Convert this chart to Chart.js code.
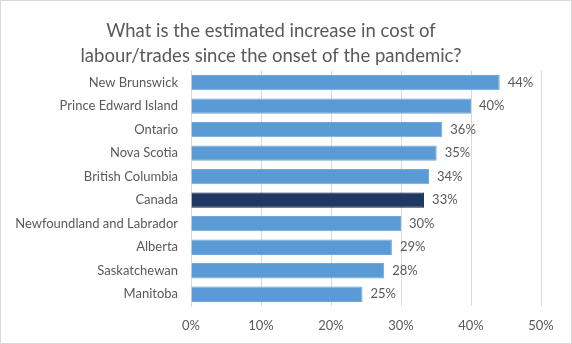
<!DOCTYPE html>
<html>
<head>
<meta charset="utf-8">
<script src="https://cdn.jsdelivr.net/npm/chart.js@4"></script>
<style>
    html, body { margin: 0; padding: 0; background: #ffffff; }
    #wrap {
        width: 572px; height: 344px; box-sizing: border-box;
        border: 1px solid #d9d9d9; background: #ffffff;
    }
</style>
</head>
<body>
<div id="wrap"><canvas id="costChart"></canvas></div>
<script>
// Chart data
const provinces = ['New Brunswick', 'Prince Edward Island', 'Ontario', 'Nova Scotia', 'British Columbia',
    'Canada', 'Newfoundland and Labrador', 'Alberta', 'Saskatchewan', 'Manitoba'];
const increase = [44.1, 40.0, 35.9, 35.1, 34.0, 33.3, 30.0, 28.7, 27.6, 24.5];
const shownLabels = ['44%', '40%', '36%', '35%', '34%', '33%', '30%', '29%', '28%', '25%'];
const xTicks = ['0%', '10%', '20%', '30%', '40%', '50%'];

const LIGHT = '#5b9bd5';
const DARK = '#1f3864';
const TEXT = '#595959';
const FONT = 'Lato, "Open Sans", sans-serif';

// Simple value labels at the end of each bar
const barLabels = {
    id: 'barLabels',
    afterDatasetsDraw(chart) {
        const ctx = chart.ctx;
        const meta = chart.getDatasetMeta(0);
        ctx.save();
        ctx.font = '13px ' + FONT;
        ctx.fillStyle = TEXT;
        ctx.textAlign = 'left';
        ctx.textBaseline = 'middle';
        meta.data.forEach(function (bar, i) {
            ctx.fillText(shownLabels[i], bar.x + 8, bar.y);
        });
        ctx.restore();
    }
};

const ctx = document.getElementById('costChart').getContext('2d');
new Chart(ctx, {
    type: 'bar',
    data: {
        labels: provinces,
        datasets: [{
            label: 'Increase',
            data: increase,
            backgroundColor: provinces.map(p => p === 'Canada' ? DARK : LIGHT),
            borderColor: provinces.map(p => p === 'Canada' ? '#0f2340' : '#6fa8dc'),
            borderWidth: 1,
            barPercentage: 0.65,
            categoryPercentage: 1.0
        }]
    },
    plugins: [barLabels],
    options: {
        indexAxis: 'y',
        responsive: true,
        maintainAspectRatio: false,
        animation: false,
        layout: { padding: { left: 0, right: 30, top: 0, bottom: 0 } },
        scales: {
            x: {
                min: 0,
                max: 50,
                ticks: {
                    stepSize: 10,
                    color: TEXT,
                    font: { family: FONT, size: 13 },
                    padding: 12,
                    callback: function (v, i) { return xTicks[i]; }
                },
                grid: { color: '#d9d9d9', drawTicks: false },
                border: { display: false },
                afterFit: function (scale) { scale.height = 37; }
            },
            y: {
                ticks: {
                    color: TEXT,
                    font: { family: FONT, size: 13 },
                    padding: 13
                },
                grid: { display: false, drawTicks: false },
                border: { display: true, color: '#d9d9d9' },
                afterFit: function (scale) { scale.width = 190; }
            }
        },
        plugins: {
            legend: { display: false },
            tooltip: { enabled: false },
            title: {
                display: true,
                text: ['What is the estimated increase in cost of', 'labour/trades since the onset of the pandemic?'],
                color: TEXT,
                font: { family: FONT, size: 18.5, weight: 'normal', lineHeight: 1.35 },
                padding: { top: 18, bottom: 2 }
            }
        }
    }
});
</script>
</body>
</html>
